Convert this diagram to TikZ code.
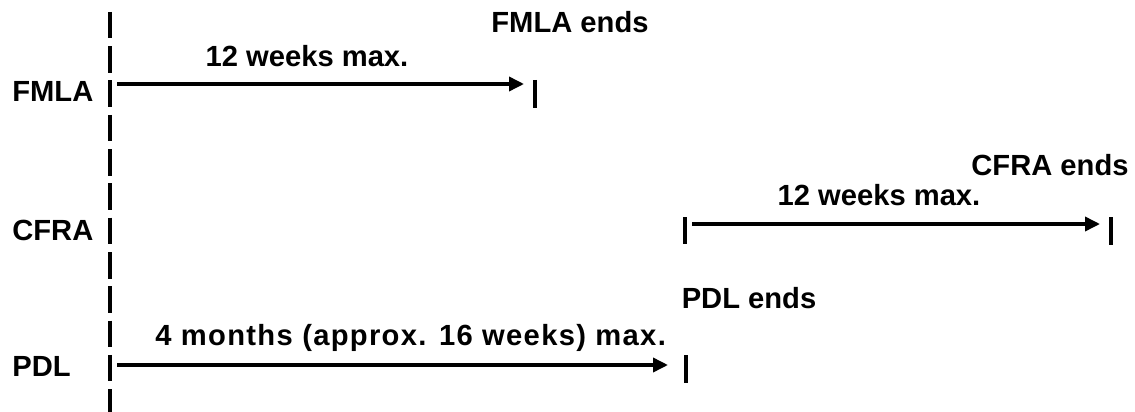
\documentclass[tikz,border=0pt]{standalone}
\usepackage{fontspec}
\setmainfont{Liberation Sans}
\usepackage{tikz}
\usetikzlibrary{positioning,arrows.meta}

\begin{document}
\begin{tikzpicture}[x = 0.02cm, y = -0.02cm,
	every node/.style = {font = \fontsize{16.6}{19}\selectfont\bfseries, inner sep = 0pt},
	span/.style = {-{Triangle[length = 0.3cm, width = 0.28cm]}, line width = 2pt},
	tick/.style = {line width = 1.8pt}]

\useasboundingbox (0, 0) rectangle (1135, 412);

% time line on the left
\foreach \i in {-2, ..., 9}
	\draw[tick] (110, {80.5 + 34.3*\i}) -- (110, {107 + 34.3*\i});

\node[anchor = base west] (FMLA) at (12, 102) {FMLA};
\node[anchor = base west] (CFRA) at (12, 240) {CFRA};
\node[anchor = base west] (PDL) at (12, 376) {PDL};

% FMLA
\begin{scope}
	\coordinate (fmla start) at (117, 84);
	\coordinate (fmla stop) at (524, 84);
	\draw[span] (fmla start) -- (fmla stop);
	\draw[tick] (535, 80) -- (535, 108);
	\node[anchor = base] (fmla span) at (307, 67) {12 weeks max.};
	\node[anchor = base] (fmla ends) at (570, 33) {FMLA ends};
\end{scope}

% CFRA
\begin{scope}
	\draw[tick] (685, 217) -- (685, 244);
	\coordinate (cfra start) at (692, 224);
	\coordinate (cfra stop) at (1100, 224);
	\draw[span] (cfra start) -- (cfra stop);
	\draw[tick] (1111, 217) -- (1111, 245);
	\node[anchor = base] (cfra span) at (879, 205) {12 weeks max.};
	\node[anchor = base] (cfra ends) at (1050, 175) {CFRA ends};
\end{scope}

% PDL
\begin{scope}
	\coordinate (pdl start) at (117, 365);
	\coordinate (pdl stop) at (668, 365);
	\draw[span] (pdl start) -- (pdl stop);
	\draw[tick] (686, 355) -- (686, 383);
	\node[anchor = base west] (pdl span) at (155, 345)
		{\addfontfeature{LetterSpace = 4.5}4 months (approx. 16 weeks) max.};
	\node[anchor = base] (pdl ends) at (749, 308) {PDL ends};
\end{scope}

\end{tikzpicture}
\end{document}
